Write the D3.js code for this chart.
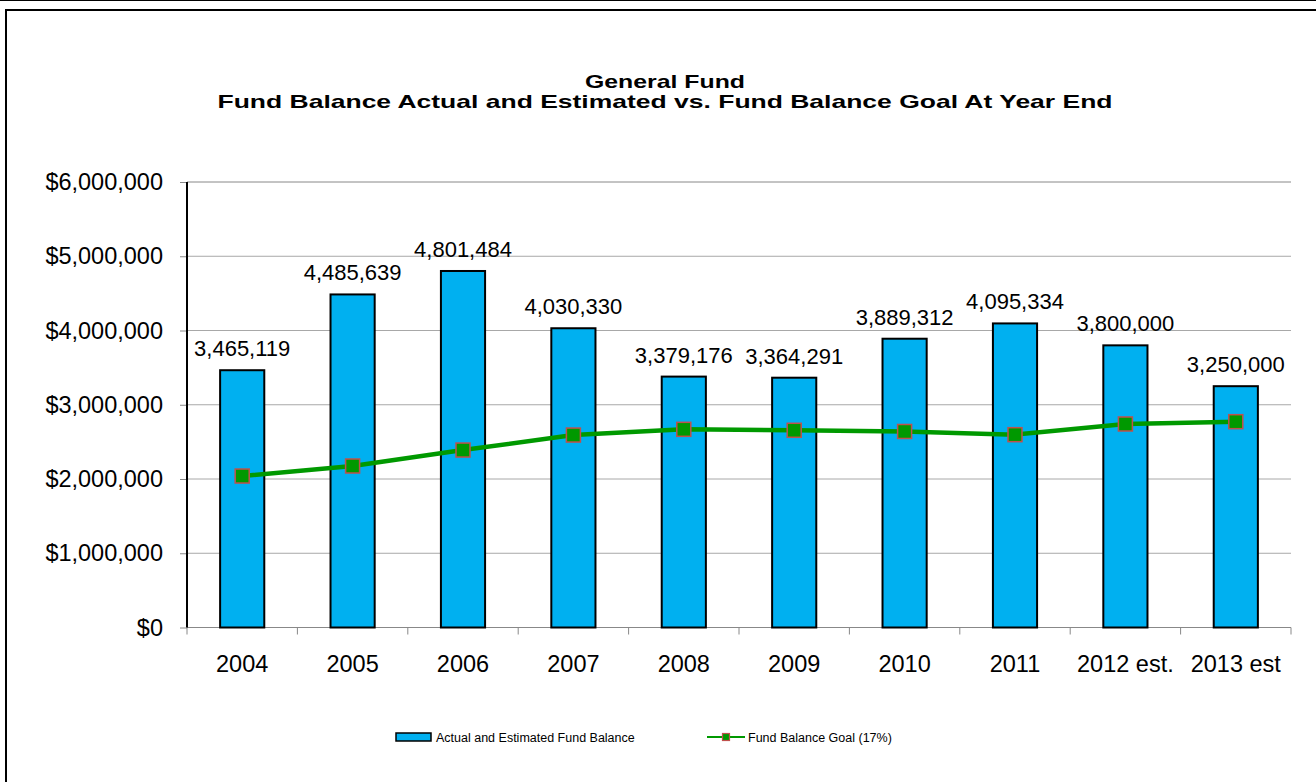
<!DOCTYPE html>
<html>
<head>
<meta charset="utf-8">
<script src="https://cdn.jsdelivr.net/npm/d3@7"></script>
<style>
  html, body { margin: 0; padding: 0; background: #fff; }
  svg { display: block; font-family: "Liberation Sans", Arial, sans-serif; }
</style>
</head>
<body>
<svg id="chart" width="1316" height="782"></svg>
<script>
// Year-end categories
const years = ["2004", "2005", "2006", "2007", "2008", "2009", "2010", "2011", "2012 est.", "2013 est"];
// Actual and estimated fund balance ($)
const fundBalance = [3465119, 4485639, 4801484, 4030330, 3379176, 3364291, 3889312, 4095334, 3800000, 3250000];
// Fund balance goal, 17% ($)
const fundGoal = [2040000, 2175000, 2390000, 2592000, 2669000, 2656000, 2640000, 2597000, 2741000, 2772000];
// Value-axis ticks
const yTicks = [0, 1000000, 2000000, 3000000, 4000000, 5000000, 6000000];

const titleLines = ["General Fund", "Fund Balance Actual and Estimated vs. Fund Balance Goal At Year End"];
const legendLabels = ["Actual and Estimated Fund Balance", "Fund Balance Goal (17%)"];

const svg = d3.select("#chart");
const plot = { left: 187, right: 1291, top: 182, bottom: 627.5 };

const barFill = "#00B0F0";
const lineColor = "#009900";
const markerEdge = "#C0504D";

// Outer frame
svg.append("line").attr("x1", 0).attr("x2", 1316).attr("y1", 0.5).attr("y2", 0.5)
  .attr("stroke", "#000").attr("stroke-width", 1);
svg.append("rect").attr("x", 6).attr("y", 10).attr("width", 1320).attr("height", 800)
  .attr("fill", "none").attr("stroke", "#000").attr("stroke-width", 2);

const x = d3.scaleBand().domain(years).range([plot.left, plot.right]).paddingInner(0).paddingOuter(0);
const y = d3.scaleLinear().domain([0, 6000000]).range([plot.bottom, plot.top]);
const barW = x.bandwidth() * 0.4;

// Gridlines
svg.append("g").selectAll("line").data(yTicks.filter(d => d > 0)).join("line")
  .attr("x1", plot.left).attr("x2", plot.right)
  .attr("y1", d => y(d)).attr("y2", d => y(d))
  .attr("stroke", d => d === 6000000 ? "#888" : "#A8A8A8").attr("stroke-width", 1);

// Y axis
const yAxis = d3.axisLeft(y).tickValues(yTicks).tickSize(7).tickPadding(17)
  .tickFormat(d => "$" + d3.format(",")(d));
const gy = svg.append("g").attr("transform", `translate(${plot.left},0)`).call(yAxis);
gy.select(".domain").remove();
gy.selectAll(".tick line").attr("stroke", "#888");
gy.selectAll(".tick text").attr("font-size", 23.5).attr("fill", "#000")
  .attr("font-family", "'Liberation Sans', Arial, sans-serif");

// X axis
svg.append("line").attr("x1", plot.left).attr("x2", plot.right)
  .attr("y1", plot.bottom).attr("y2", plot.bottom).attr("stroke", "#888").attr("stroke-width", 1.2);
svg.append("g").selectAll("line").data(years.concat([null])).join("line")
  .attr("x1", (d, i) => i < years.length ? x(d) : plot.right)
  .attr("x2", (d, i) => i < years.length ? x(d) : plot.right)
  .attr("y1", plot.bottom).attr("y2", plot.bottom + 7)
  .attr("stroke", "#888").attr("stroke-width", 1);
svg.append("g").selectAll("text").data(years).join("text")
  .attr("x", d => x(d) + x.bandwidth() / 2).attr("y", 672)
  .attr("text-anchor", "middle").attr("font-size", 23.5).attr("fill", "#000")
  .text(d => d);

// Bars
svg.append("g").selectAll("rect").data(fundBalance).join("rect")
  .attr("x", (d, i) => x(years[i]) + (x.bandwidth() - barW) / 2)
  .attr("y", d => y(d))
  .attr("width", barW)
  .attr("height", d => y(0) - y(d))
  .attr("fill", barFill).attr("stroke", "#000").attr("stroke-width", 2);

// Y axis line drawn over bars
svg.append("line").attr("x1", plot.left).attr("x2", plot.left)
  .attr("y1", plot.top).attr("y2", plot.bottom).attr("stroke", "#000").attr("stroke-width", 2);

// Value labels
svg.append("g").selectAll("text").data(fundBalance).join("text")
  .attr("x", (d, i) => x(years[i]) + x.bandwidth() / 2)
  .attr("y", d => y(d) - 14)
  .attr("text-anchor", "middle").attr("font-size", 22).attr("fill", "#000")
  .text(d => d3.format(",")(d));

// Goal line
const line = d3.line().x((d, i) => x(years[i]) + x.bandwidth() / 2).y(d => y(d));
svg.append("path").datum(fundGoal).attr("d", line)
  .attr("fill", "none").attr("stroke", lineColor).attr("stroke-width", 4.5)
  .attr("stroke-linejoin", "round");
const mk = 14;
svg.append("g").selectAll("rect").data(fundGoal).join("rect")
  .attr("x", (d, i) => x(years[i]) + x.bandwidth() / 2 - mk / 2)
  .attr("y", d => y(d) - mk / 2)
  .attr("width", mk).attr("height", mk)
  .attr("fill", lineColor).attr("stroke", markerEdge).attr("stroke-width", 1.5);

// Title (two lines, widened to the chart's title width)
const titleWidths = [160, 895];
svg.append("g").selectAll("text").data(titleLines).join("text")
  .attr("x", 665).attr("y", (d, i) => 88 + i * 20)
  .attr("text-anchor", "middle").attr("font-size", 19).attr("font-weight", "bold").attr("fill", "#000")
  .attr("textLength", (d, i) => titleWidths[i]).attr("lengthAdjust", "spacingAndGlyphs")
  .text(d => d);

// Legend
const lg = svg.append("g");
lg.append("rect").attr("x", 396).attr("y", 733).attr("width", 35).attr("height", 8)
  .attr("fill", barFill).attr("stroke", "#000").attr("stroke-width", 1.5);
lg.append("text").attr("x", 436).attr("y", 742).attr("font-size", 12.5).attr("fill", "#000").text(legendLabels[0]);
lg.append("line").attr("x1", 707).attr("x2", 745).attr("y1", 737).attr("y2", 737)
  .attr("stroke", lineColor).attr("stroke-width", 2);
lg.append("rect").attr("x", 722.5).attr("y", 733.5).attr("width", 7).attr("height", 7)
  .attr("fill", lineColor).attr("stroke", markerEdge).attr("stroke-width", 1.2);
lg.append("text").attr("x", 748).attr("y", 742).attr("font-size", 12.5).attr("fill", "#000").text(legendLabels[1]);
</script>
</body>
</html>
